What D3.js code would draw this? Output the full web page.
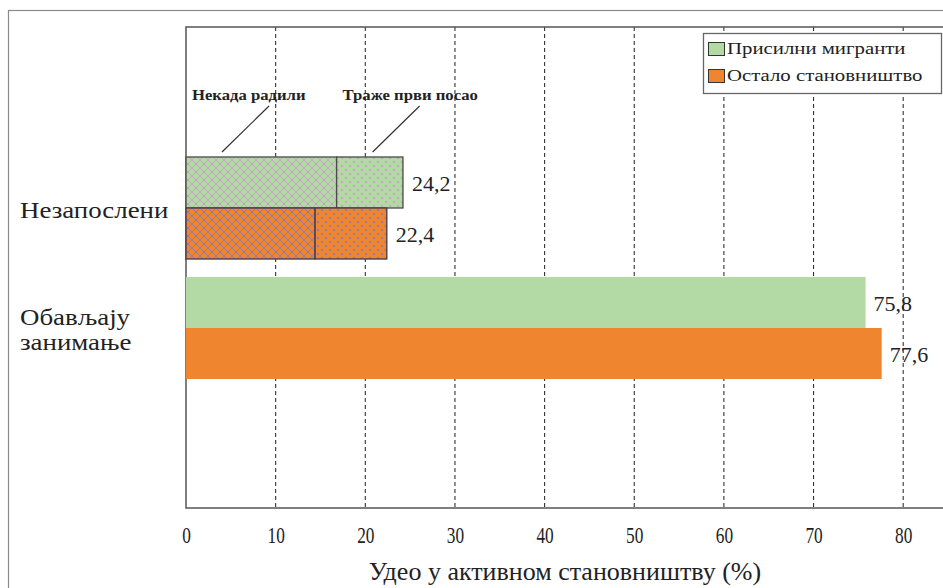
<!DOCTYPE html>
<html>
<head>
<meta charset="utf-8">
<script src="https://cdn.jsdelivr.net/npm/d3@7"></script>
<style>
  body { margin: 0; background: #fff; }
  svg { display: block; font-family: "Liberation Serif", "Times New Roman", "DejaVu Serif", serif; }
</style>
</head>
<body>
<div id="chart"></div>
<script>
const categories = ["Незапослени", "Обављају занимање"];
const seriesNames = ["Присилни мигранти", "Остало становништво"];
const unemployedParts = ["Некада радили", "Траже први посао"];
// unemployed split: [worked before, looking for first job]
const migrantsUnemployed = [16.8, 7.4];
const othersUnemployed = [14.4, 8.0];
const migrantsEmployed = [75.8];
const othersEmployed = [77.6];
const xTicks = [0, 10, 20, 30, 40, 50, 60, 70, 80];

const width = 943, height = 588;
const colors = ["#b3d9a4", "#f0852f"];
const hatchInk = ["#c79ac8", "#7d78b8"];
const serif = "Liberation Serif, Times New Roman, DejaVu Serif, serif";

const svg = d3.select("#chart").append("svg")
  .attr("width", width).attr("height", height);

// stretch text horizontally around its own x
function stretch(sel, sx) {
  sel.attr("transform", function () {
    const x0 = +d3.select(this).attr("x") || 0;
    return `translate(${x0},0) scale(${sx},1) translate(${-x0},0)`;
  });
}

const defs = svg.append("defs");
colors.forEach((c, i) => {
  const h = defs.append("pattern")
    .attr("id", "hatch" + i).attr("patternUnits", "userSpaceOnUse")
    .attr("width", 8).attr("height", 8);
  h.append("rect").attr("width", 8).attr("height", 8).attr("fill", c);
  h.append("path").attr("d", "M0,0L8,8M8,0L0,8")
    .attr("stroke", hatchInk[i]).attr("stroke-width", 0.9).attr("opacity", 0.9);
  h.append("rect").attr("x", 3.3).attr("y", 3.3).attr("width", 1.4).attr("height", 1.4)
    .attr("fill", hatchInk[i]);

  const d = defs.append("pattern")
    .attr("id", "dots" + i).attr("patternUnits", "userSpaceOnUse")
    .attr("width", 8).attr("height", 8);
  d.append("rect").attr("width", 8).attr("height", 8).attr("fill", c);
  d.append("path").attr("d", "M2,0.8V3.2M0.8,2H3.2M6,4.8V7.2M4.8,6H7.2")
    .attr("stroke", hatchInk[i]).attr("stroke-width", 0.9);
});

const margin = { top: 27, left: 186, bottom: 508 };

const x = d3.scaleLinear().domain([0, 85]).range([margin.left, margin.left + 85 * 8.965]);
const y = d3.scaleBand().domain(categories).range([148, 388]);
const barH = 51;

// outer frame
svg.append("rect")
  .attr("x", 8.5).attr("y", 10.5).attr("width", 960).attr("height", 600)
  .attr("fill", "none").attr("stroke", "#8a8a8a").attr("stroke-width", 1.2);

// grid
svg.append("g").selectAll("line")
  .data(xTicks.filter(d => d > 0))
  .join("line")
  .attr("x1", d => x(d)).attr("x2", d => x(d))
  .attr("y1", margin.top).attr("y2", margin.bottom)
  .attr("stroke", "#333").attr("stroke-width", 1.1)
  .attr("stroke-dasharray", "4,3");

// plot frame
svg.append("path")
  .attr("d", `M${width + 5},${margin.top}H${margin.left}V${margin.bottom}H${width + 5}`)
  .attr("fill", "none").attr("stroke", "#555").attr("stroke-width", 1.5);

// x axis labels
const xAxis = d3.axisBottom(x).tickValues(xTicks).tickSize(0).tickPadding(0);
const gx = svg.append("g")
  .attr("transform", `translate(0,${margin.bottom})`)
  .call(xAxis)
  .attr("font-family", serif);
gx.select(".domain").remove();
gx.selectAll(".tick text")
  .attr("dy", null).attr("y", 35)
  .attr("font-size", 24).attr("fill", "#222")
  .attr("transform", "scale(0.72,1)");

svg.append("text")
  .attr("x", 565).attr("y", 580)
  .attr("text-anchor", "middle")
  .attr("font-size", 26).attr("fill", "#222")
  .text("Удео у активном становништву (%)");

// category labels
svg.append("g").selectAll("text")
  .data(categories)
  .join("text")
  .attr("x", 20)
  .attr("y", d => y(d) + y.bandwidth() / 2)
  .attr("font-size", 24).attr("fill", "#222")
  .each(function (d) {
    const words = d.split(" ");
    const t = d3.select(this);
    const off = words.length > 1 ? -3 : 10;
    words.forEach((w, i) => {
      t.append("tspan").attr("x", 20).attr("dy", i === 0 ? off : 25).text(w);
    });
  })
  .call(stretch, 1.12);

const fmt = v => d3.format(".1f")(v).replace(".", ",");

// unemployed stacked bars
const stacks = [migrantsUnemployed, othersUnemployed];
stacks.forEach((parts, si) => {
  const y0 = y(categories[0]) + 9 + si * barH;
  let acc = 0;
  parts.forEach((v, pi) => {
    svg.append("rect")
      .attr("x", x(acc)).attr("y", y0)
      .attr("width", x(acc + v) - x(acc)).attr("height", barH)
      .attr("fill", `url(#${pi === 0 ? "hatch" : "dots"}${si})`)
      .attr("stroke", si === 0 ? "#4a4a4a" : "#3a3a5a").attr("stroke-width", 1.3);
    acc += v;
  });
  svg.append("text")
    .attr("x", x(acc) + 9).attr("y", y0 + barH / 2 + 8)
    .attr("font-size", 22).attr("fill", "#222")
    .text(fmt(acc));
});

// employed bars
[migrantsEmployed, othersEmployed].forEach((vals, si) => {
  const y0 = y(categories[1]) + 9 + si * barH;
  svg.append("rect")
    .attr("x", x(0)).attr("y", y0)
    .attr("width", x(vals[0]) - x(0)).attr("height", barH)
    .attr("fill", colors[si]);
  svg.append("text")
    .attr("x", x(vals[0]) + 8).attr("y", y0 + barH / 2 + 8)
    .attr("font-size", 22).attr("fill", "#222")
    .text(fmt(vals[0]));
});

// segment annotations
const barTop = y(categories[0]) + 9;
const segStarts = [0, migrantsUnemployed[0]];
segStarts.forEach((s, i) => {
  const x0 = x(s);
  svg.append("line")
    .attr("x1", x0 + 36).attr("y1", barTop - 5)
    .attr("x2", x0 + 83).attr("y2", 106)
    .attr("stroke", "#333").attr("stroke-width", 1.2);
  svg.append("text")
    .attr("x", x0 + 6).attr("y", 100)
    .attr("font-size", 14.5).attr("fill", "#222")
    .attr("font-weight", "bold")
    .text(unemployedParts[i])
    .call(stretch, 1.15);
});

// legend
const lg = svg.append("g").attr("transform", "translate(703,33)");
lg.append("rect").attr("x", 0.5).attr("y", 0.5).attr("width", 238).attr("height", 60)
  .attr("fill", "#fff").attr("stroke", "#666").attr("stroke-width", 1.3);
seriesNames.forEach((n, i) => {
  lg.append("rect").attr("x", 5.5).attr("y", 9.5 + i * 27).attr("width", 16).attr("height", 13)
    .attr("fill", colors[i]).attr("stroke", "#333").attr("stroke-width", 1);
  lg.append("text").attr("x", 24).attr("y", 21 + i * 27)
    .attr("font-size", 16).attr("fill", "#222").text(n)
    .call(stretch, 1.3);
});
</script>
</body>
</html>
